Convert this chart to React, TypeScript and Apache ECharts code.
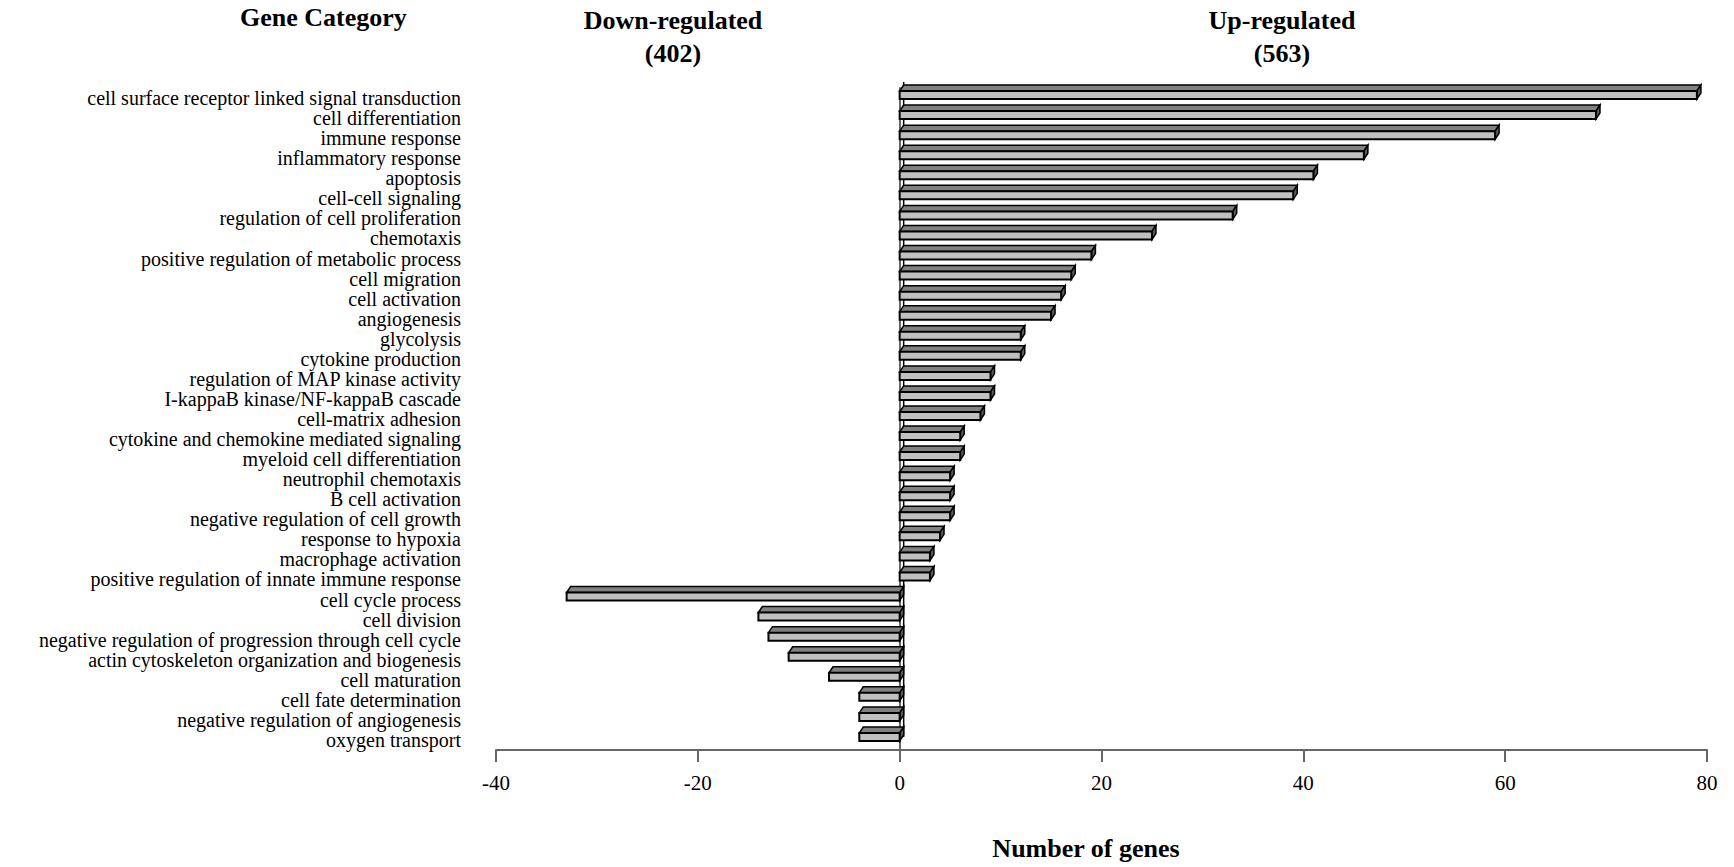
import React, { useEffect, useRef } from "react";
import * as echarts from "echarts";

const categories = [
  "cell surface receptor linked signal transduction",
  "cell differentiation",
  "immune response",
  "inflammatory response",
  "apoptosis",
  "cell-cell signaling",
  "regulation of cell proliferation",
  "chemotaxis",
  "positive regulation of metabolic process",
  "cell migration",
  "cell activation",
  "angiogenesis",
  "glycolysis",
  "cytokine production",
  "regulation of MAP kinase activity",
  "I-kappaB kinase/NF-kappaB cascade",
  "cell-matrix adhesion",
  "cytokine and chemokine mediated signaling",
  "myeloid cell differentiation",
  "neutrophil chemotaxis",
  "B cell activation",
  "negative regulation of cell growth",
  "response to hypoxia",
  "macrophage activation",
  "positive regulation of innate immune response",
  "cell cycle process",
  "cell division",
  "negative regulation of progression through cell cycle",
  "actin cytoskeleton organization and biogenesis",
  "cell maturation",
  "cell fate determination",
  "negative regulation of angiogenesis",
  "oxygen transport",
];

const upRegulated = [
  79, 69, 59, 46, 41, 39, 33, 25, 19, 17, 16, 15, 12, 12, 9, 9, 8, 6, 6, 5, 5, 5, 4, 3, 3,
  0, 0, 0, 0, 0, 0, 0, 0,
];

const downRegulated = [
  0, 0, 0, 0, 0, 0, 0, 0, 0, 0, 0, 0, 0, 0, 0, 0, 0, 0, 0, 0, 0, 0, 0, 0, 0,
  -33, -14, -13, -11, -7, -4, -4, -4,
];

const xTicks = { min: -40, max: 80, interval: 20 };
const titles = {
  category: "Gene Category",
  down: "Down-regulated\n(402)",
  up: "Up-regulated\n(563)",
  xName: "Number of genes",
};

const FONT = '"Liberation Serif", "Times New Roman", serif';
const DX = 4;
const DY = 6;

function render3DBar(params: any, api: any) {
  const v = api.value(0);
  const idx = api.value(1);
  if (!v) return null;
  const p0 = api.coord([0, idx]);
  const p1 = api.coord([v, idx]);
  const c = p0[1];
  const xa = Math.min(p0[0], p1[0]);
  const xb = Math.max(p0[0], p1[0]);
  const yTop = c - 7;
  const h = 8;
  const stroke = "#000";
  return {
    type: "group",
    children: [
      {
        type: "polygon",
        shape: {
          points: [
            [xa, yTop],
            [xb, yTop],
            [xb + DX, yTop - DY],
            [xa + DX, yTop - DY],
          ],
        },
        style: { fill: "#808080", stroke, lineWidth: 1.5 },
      },
      {
        type: "polygon",
        shape: {
          points: [
            [xb, yTop],
            [xb + DX, yTop - DY],
            [xb + DX, yTop - DY + h],
            [xb, yTop + h],
          ],
        },
        style: { fill: "#5a5a5a", stroke, lineWidth: 1.5 },
      },
      {
        type: "rect",
        shape: { x: xa, y: yTop, width: xb - xa, height: h },
        style: { fill: "#c0c0c0", stroke, lineWidth: 2 },
      },
    ],
  };
}

function renderBackWall(params: any, api: any) {
  const top = api.coord([0, 0]);
  const bot = api.coord([0, categories.length - 1]);
  return {
    type: "line",
    shape: { x1: top[0] + DX, y1: top[1] - 16, x2: bot[0] + DX, y2: bot[1] - 3 },
    style: { stroke: "#000", lineWidth: 1.5 },
  };
}

export default function App() {
  const ref = useRef<HTMLDivElement>(null);
  useEffect(() => {
    if (!ref.current) return;
    const chart = echarts.init(ref.current, null, { renderer: "svg" });
    const upData = upRegulated.map((v, i) => [v, i]);
    const downData = downRegulated.map((v, i) => [v, i]);
    chart.setOption({
      animation: false,
      backgroundColor: "#fff",
      textStyle: { fontFamily: FONT },
      grid: { left: 496, right: 27, top: 88, bottom: 117, containLabel: false },
      xAxis: {
        type: "value",
        min: xTicks.min,
        max: xTicks.max,
        interval: xTicks.interval,
        axisLine: { show: true, lineStyle: { color: "#666", width: 2 } },
        axisTick: { show: true, length: 12, lineStyle: { color: "#666", width: 2 } },
        axisLabel: { color: "#000", fontSize: 21, fontFamily: FONT, margin: 22 },
        splitLine: { show: false },
      },
      yAxis: {
        type: "category",
        inverse: true,
        data: categories,
        axisLine: { show: true, lineStyle: { color: "#666", width: 2 } },
        axisTick: { show: false },
        axisLabel: {
          color: "#000",
          fontSize: 20,
          lineHeight: 19,
          fontFamily: FONT,
          margin: 35,
          interval: 0,
        },
        splitLine: { show: false },
      },
      graphic: [
        {
          type: "text",
          left: 325 - 85,
          top: 4,
          style: {
            text: titles.category,
            font: `bold 26px ${FONT}`,
            fill: "#000",
          },
        },
        {
          type: "text",
          x: 673,
          y: 4,
          style: {
            text: titles.down,
            font: `bold 26px ${FONT}`,
            fill: "#000",
            textAlign: "center",
            lineHeight: 33,
          },
        },
        {
          type: "text",
          x: 1282,
          y: 4,
          style: {
            text: titles.up,
            font: `bold 26px ${FONT}`,
            fill: "#000",
            textAlign: "center",
            lineHeight: 33,
          },
        },
        {
          type: "text",
          x: 1086,
          y: 835,
          style: {
            text: titles.xName,
            font: `bold 26px ${FONT}`,
            fill: "#000",
            textAlign: "center",
          },
        },
      ],
      series: [
        {
          type: "custom",
          name: "wall",
          renderItem: renderBackWall,
          data: [[0, 0]],
          encode: { x: 0, y: 1 },
          silent: true,
          z: 1,
        },
        {
          type: "custom",
          name: "Up-regulated",
          renderItem: render3DBar,
          data: upData,
          encode: { x: 0, y: 1 },
          z: 2,
        },
        {
          type: "custom",
          name: "Down-regulated",
          renderItem: render3DBar,
          data: downData,
          encode: { x: 0, y: 1 },
          z: 2,
        },
      ],
    });
    return () => chart.dispose();
  }, []);
  return (
    <div
      ref={ref}
      style={{ position: "fixed", left: 0, top: 0, width: 1734, height: 867 }}
    />
  );
}
